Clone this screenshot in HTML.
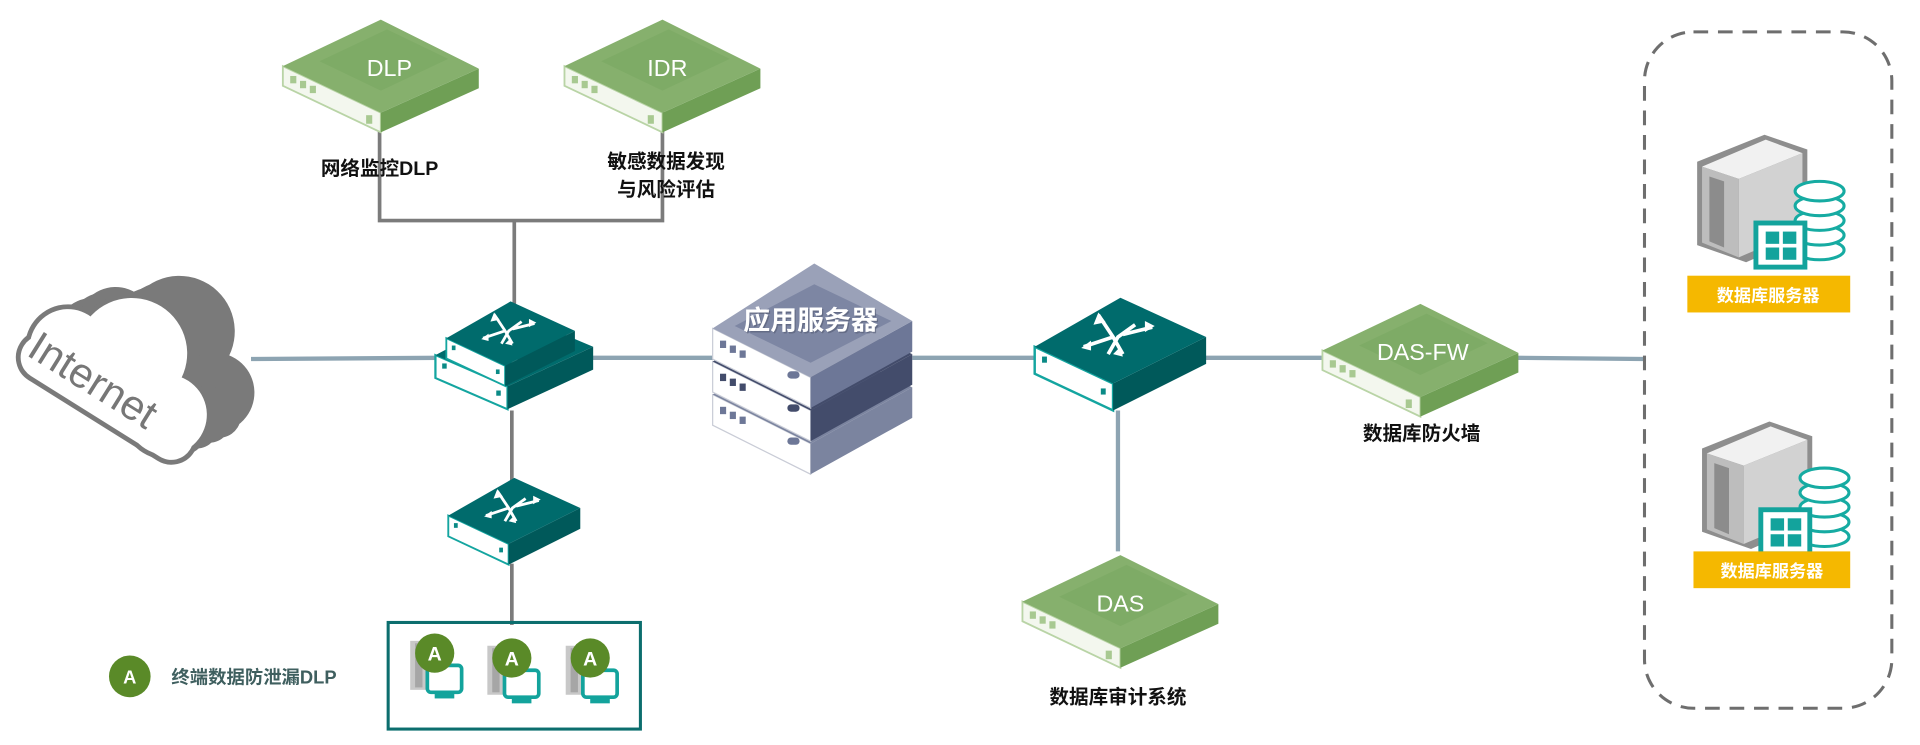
<!DOCTYPE html>
<html><head><meta charset="utf-8"><style>
html,body{margin:0;padding:0;background:#fff;}
svg{display:block}
text{font-family:"Liberation Sans","Noto Sans CJK SC",sans-serif;}
</style></head><body>
<svg width="1920" height="745" viewBox="0 0 1568 608" preserveAspectRatio="none" xmlns="http://www.w3.org/2000/svg">
<defs>
 <g id="gdev">
  <polygon points="-80,-4 -80,12 0,50 0,34" fill="#f3f7ee" stroke="#b9d4a6" stroke-width="1.5"/>
  <polygon points="0,34 0,50 80,14 80,-2" fill="#6f9f55"/>
  <polygon points="-80,-4 0,-42 80,-2 0,34" fill="#86b06d"/>
  <polygon points="-50,-8 5,-34 55,-10 0,16" fill="#7aa862" opacity="0.6"/>
  <rect x="-74" y="4" width="5" height="6" fill="#a8c991"/>
  <rect x="-66" y="8" width="5" height="6" fill="#a8c991"/>
  <rect x="-58" y="12" width="5" height="6" fill="#a8c991"/>
  <rect x="-12" y="36" width="5" height="7" fill="#a8c991"/>
 </g>
 <g id="sw">
  <polygon points="-70,-12 -70,10 -6,40 -6,18" fill="#fff" stroke="#14a5a0" stroke-width="2"/>
  <polygon points="-6,18 -6,40 70,2 70,-20" fill="#00595a"/>
  <polygon points="-70,-12 0,-52 70,-20 -6,18" fill="#006b6c"/>
  <rect x="-64" y="-4" width="4" height="5" fill="#0a8a86"/>
  <rect x="-16" y="22" width="4" height="5" fill="#0a8a86"/>
  <g stroke="#fff" stroke-width="3" fill="none">
   <path d="M-18,-38 L-6,-20 L2,-6 M-10,-6 L-2,-20 L12,-30 M-30,-12 L-6,-20 M2,-22 L26,-28"/>
  </g>
  <g fill="#fff">
   <polygon points="-18,-40 -12,-32 -22,-30"/>
   <polygon points="2,-4 -6,-6 0,-12"/>
   <polygon points="-32,-11 -24,-17 -24,-9"/>
   <polygon points="28,-29 20,-33 20,-24"/>
  </g>
 </g>
 <g id="pc">
  <rect x="-20" y="-10" width="22" height="40" fill="#c8c8c8"/>
  <rect x="-16" y="-8" width="6" height="36" fill="#a6a6a6"/>
  <rect x="-6" y="10" width="28" height="22" rx="3" fill="#fff" stroke="#13a39c" stroke-width="3"/>
  <rect x="0" y="32" width="16" height="5" fill="#13a39c"/>
  <circle cx="0" cy="0" r="16" fill="#5a8a28"/>
  <text x="0" y="6" font-size="16" font-weight="bold" fill="#fff" text-anchor="middle">A</text>
 </g>
 <g id="db">
  <polygon points="0,10 55,-12 90,0 90,70 40,92 0,78" fill="#8e8e8e"/>
  <polygon points="4,14 56,-8 86,3 34,24" fill="#f1f1f1"/>
  <polygon points="34,24 86,3 86,66 34,88" fill="#d2d2d2"/>
  <polygon points="4,14 34,24 34,88 4,76" fill="#bdbdbd"/>
  <polygon points="10,22 22,26 22,80 10,75" fill="#8c8c8c"/>
  <g fill="#fff" stroke="#16aba2" stroke-width="2.5">
   <ellipse cx="100" cy="82" rx="20" ry="8"/>
   <ellipse cx="100" cy="70" rx="20" ry="8"/>
   <ellipse cx="100" cy="58" rx="20" ry="8"/>
   <ellipse cx="100" cy="46" rx="20" ry="8"/>
   <ellipse cx="100" cy="34" rx="20" ry="8"/>
  </g>
  <rect x="48" y="60" width="40" height="36" fill="#fff" stroke="#13a39c" stroke-width="4"/>
  <rect x="56" y="67" width="11" height="10" fill="#13a39c"/><rect x="70" y="67" width="11" height="10" fill="#13a39c"/>
  <rect x="56" y="80" width="11" height="10" fill="#13a39c"/><rect x="70" y="80" width="11" height="10" fill="#13a39c"/>
 </g>
 <g id="cl">
  <circle cx="-40" cy="0" r="40"/><circle cx="20" cy="-30" r="58"/><circle cx="85" cy="5" r="42"/>
  <rect x="-80" y="0" width="205" height="46" rx="23"/>
 </g>
</defs>

<!-- connectors -->
<g stroke="#8da4b2" stroke-width="3.5" fill="none">
 <line x1="205" y1="293" x2="360" y2="292"/>
 <line x1="480" y1="292" x2="585" y2="292"/>
 <line x1="745" y1="292" x2="850" y2="292"/>
 <line x1="980" y1="292" x2="1085" y2="292"/>
 <line x1="1238" y1="292" x2="1342" y2="293"/>
 <line x1="913" y1="335" x2="913" y2="450"/>
</g>
<g stroke="#7b7b7b" stroke-width="3" fill="none">
 <polyline points="310,85 310,180 541,180 541,85"/>
 <line x1="420" y1="180" x2="420" y2="250"/>
 <line x1="418" y1="335" x2="418" y2="395"/>
 <line x1="418" y1="460" x2="418" y2="510"/>
</g>

<!-- cloud -->
<g transform="translate(82,300) rotate(32) scale(0.78)">
 <g fill="#7a7a7a">
  <use href="#cl" transform="translate(8,-12)"/>
  <use href="#cl" transform="translate(16,-24)"/>
  <use href="#cl" transform="translate(24,-36)"/>
  <use href="#cl" transform="translate(30,-46)"/>
 </g>
 <g fill="#7a7a7a" stroke="#7a7a7a" stroke-width="10"><use href="#cl"/></g>
 <g fill="#fff"><use href="#cl"/></g>
 <text x="-74" y="30" font-size="44" fill="#777">Internet</text>
</g>

<!-- DLP / IDR -->
<use href="#gdev" transform="translate(311,58)"/>
<text x="318" y="62" font-size="19" fill="#fff" text-anchor="middle">DLP</text>
<use href="#gdev" transform="translate(541,58)"/>
<text x="545" y="62" font-size="19" fill="#fff" text-anchor="middle">IDR</text>
<text x="310" y="143" font-size="16" font-weight="bold" fill="#111" text-anchor="middle">网络监控DLP</text>
<text x="544" y="137" font-size="16" font-weight="bold" fill="#111" text-anchor="middle">敏感数据发现</text>
<text x="544" y="160" font-size="16" font-weight="bold" fill="#111" text-anchor="middle">与风险评估</text>

<!-- switch1 two layers -->
<use href="#sw" transform="translate(420,300) scale(0.92,0.85)"/>
<use href="#sw" transform="translate(417,285) scale(0.75,0.75)"/>
<!-- switch2 -->
<use href="#sw" transform="translate(915,295)"/>
<!-- switch3 -->
<use href="#sw" transform="translate(420,430) scale(0.77,0.77)"/>

<!-- app server -->
<g>
 <g transform="translate(0,54)">
  <polygon points="582,268 662,308 662,333 582,293" fill="#fff" stroke="#c9ccd6"/>
  <polygon points="662,308 745,262 745,287 662,333" fill="#7b849f"/>
  <polygon points="582,268 665,225 745,262 662,308" fill="#7b849f"/>
 </g>
 <g transform="translate(0,27)">
  <polygon points="582,268 662,308 662,333 582,293" fill="#fff" stroke="#c9ccd6"/>
  <polygon points="662,308 745,262 745,287 662,333" fill="#434c6b"/>
  <polygon points="582,268 665,225 745,262 662,308" fill="#434c6b"/>
 </g>
 <polygon points="582,268 662,308 662,333 582,293" fill="#fff" stroke="#c9ccd6"/>
 <polygon points="662,308 745,262 745,287 662,333" fill="#6d7797"/>
 <polygon points="582,268 665,215 745,262 662,308" fill="#9aa1b8"/>
 <polygon points="600,266 665,232 728,262 662,296" fill="#7d86a3"/>
 <g fill="#6d7797">
  <rect x="588" y="278" width="5" height="6"/><rect x="596" y="282" width="5" height="6"/><rect x="604" y="286" width="5" height="6"/>
  <rect x="588" y="305" width="5" height="6" fill="#434c6b"/><rect x="596" y="309" width="5" height="6" fill="#434c6b"/><rect x="604" y="313" width="5" height="6" fill="#434c6b"/>
  <rect x="588" y="332" width="5" height="6"/><rect x="596" y="336" width="5" height="6"/><rect x="604" y="340" width="5" height="6"/>
  <rect x="643" y="303" width="10" height="6" rx="3"/><rect x="643" y="330" width="10" height="6" rx="3" fill="#434c6b"/><rect x="643" y="357" width="10" height="6" rx="3"/>
 </g>
 <text x="663" y="270" font-size="22" fill="#555c74" text-anchor="middle" font-weight="bold" opacity="0.6">应用服务器</text>
 <text x="662" y="269" font-size="22" fill="#fff" text-anchor="middle" font-weight="bold">应用服务器</text>
</g>

<!-- DAS-FW -->
<use href="#gdev" transform="translate(1160,290)"/>
<text x="1162" y="294" font-size="19" fill="#fff" text-anchor="middle">DAS-FW</text>
<text x="1161" y="359" font-size="16" font-weight="bold" fill="#111" text-anchor="middle">数据库防火墙</text>

<!-- DAS -->
<use href="#gdev" transform="translate(915,495)"/>
<text x="915" y="499" font-size="19" fill="#fff" text-anchor="middle">DAS</text>
<text x="913" y="574" font-size="16" font-weight="bold" fill="#111" text-anchor="middle">数据库审计系统</text>

<!-- dashed box -->
<rect x="1343" y="26" width="202" height="552" rx="40" fill="none" stroke="#6e6e6e" stroke-width="2.5" stroke-dasharray="12,8"/>
<use href="#db" transform="translate(1386,122)"/>
<rect x="1378" y="225" width="133" height="30" fill="#f5b800"/>
<text x="1444" y="246" font-size="14" font-weight="bold" fill="#fff" text-anchor="middle">数据库服务器</text>
<use href="#db" transform="translate(1390,356)"/>
<rect x="1383" y="450" width="128" height="30" fill="#f5b800"/>
<text x="1447" y="471" font-size="14" font-weight="bold" fill="#fff" text-anchor="middle">数据库服务器</text>

<!-- terminals -->
<rect x="317" y="508" width="206" height="87" fill="none" stroke="#0c6e6e" stroke-width="2.5"/>
<use href="#pc" transform="translate(355,533)"/>
<use href="#pc" transform="translate(418,537)"/>
<use href="#pc" transform="translate(482,537)"/>

<!-- legend -->
<circle cx="106" cy="552" r="17" fill="#5a8a28"/>
<text x="106" y="558" font-size="15" font-weight="bold" fill="#fff" text-anchor="middle">A</text>
<text x="140" y="558" font-size="15" font-weight="bold" fill="#3f5f5f">终端数据防泄漏DLP</text>
</svg>
</body></html>
